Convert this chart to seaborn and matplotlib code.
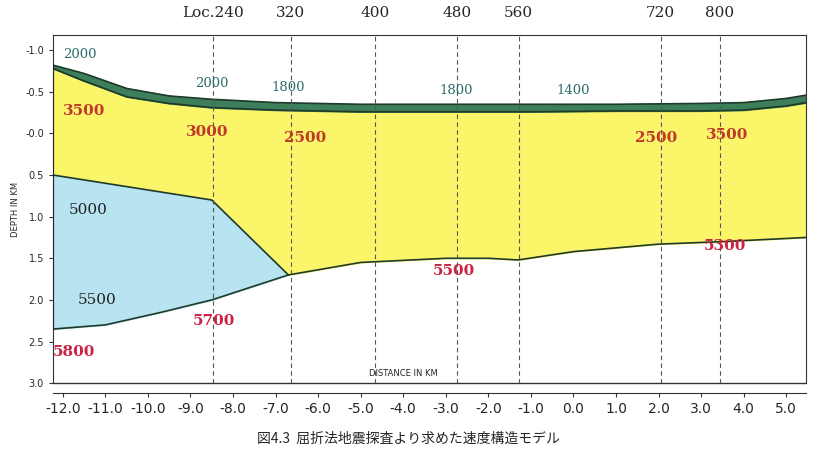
import matplotlib
matplotlib.use("Agg")
import matplotlib.pyplot as plt
import seaborn as sns
import numpy as np

sns.set_style("white")
plt.rcParams['font.family'] = ['DejaVu Sans']

surf_x = [-12.23, -11.5, -10.5, -9.5, -8.5, -7.0, -5.0, -3.0, -1.0, 1.0, 3.0, 4.0, 5.0, 5.47]
surf_top = [-0.82, -0.72, -0.54, -0.45, -0.41, -0.37, -0.35, -0.35, -0.35, -0.35, -0.36, -0.37, -0.42, -0.46]
surf_base = [-0.78, -0.63, -0.44, -0.36, -0.31, -0.28, -0.26, -0.26, -0.26, -0.27, -0.27, -0.28, -0.33, -0.37]

by_x = [-12.23, -8.5, -6.7]
by_top = [0.50, 0.80, 1.70]
blue_bot_x = [-12.23, -11.0, -9.7, -8.5, -6.7]
blue_bot = [2.35, 2.30, 2.15, 2.00, 1.70]
ybase_x = [-6.7, -5.0, -3.0, -2.0, -1.3, 0.0, 2.0, 3.5, 5.47]
ybase = [1.70, 1.55, 1.50, 1.50, 1.52, 1.42, 1.33, 1.30, 1.25]

loc_x = [-8.47, -6.64, -4.66, -2.73, -1.29, 2.05, 3.44]
loc_labels = ["Loc.240", "320", "400", "480", "560", "720", "800"]

vel_labels = [(-11.6, -0.95, "2000", "#2e6b6b"), (-8.5, -0.60, "2000", "#2e6b6b"),
              (-6.7, -0.55, "1800", "#2e6b6b"), (-2.75, -0.52, "1800", "#2e6b6b"),
              (0.0, -0.52, "1400", "#2e6b6b"),
              (-11.5, -0.27, "3500", "#c0392b"), (-8.6, -0.02, "3000", "#c0392b"),
              (-6.3, 0.05, "2500", "#c0392b"), (1.95, 0.05, "2500", "#c0392b"),
              (3.6, 0.02, "3500", "#c0392b"),
              (-11.4, 0.92, "5000", "#222222"), (-11.2, 2.0, "5500", "#222222"),
              (-8.45, 2.25, "5700", "#cc2244"), (-11.75, 2.62, "5800", "#cc2244"),
              (-2.8, 1.65, "5500", "#cc2244"), (3.55, 1.35, "5300", "#cc2244")]

fig = plt.figure(figsize=(8.16, 4.69), dpi=100)
ax = fig.add_axes([0.065, 0.183, 0.923, 0.742])

ax.fill_between(surf_x, surf_top, surf_base, color="#3d7f5a", zorder=2)
yb_x = sorted(set(surf_x + by_x + ybase_x))
low = np.where(np.array(yb_x) <= -6.7, np.interp(yb_x, by_x, by_top), np.interp(yb_x, ybase_x, ybase))
ax.fill_between(yb_x, np.interp(yb_x, surf_x, surf_base), low, color="#fbf56a", zorder=1)
bx = blue_bot_x
ax.fill_between(bx, np.interp(bx, by_x, by_top), blue_bot, color="#b8e4f2", zorder=1)

for xs, ys in [(surf_x, surf_top), (surf_x, surf_base), (by_x, by_top), (blue_bot_x, blue_bot), (ybase_x, ybase)]:
    sns.lineplot(x=xs, y=ys, ax=ax, color="#1e3a2a", lw=1.2, sort=False, estimator=None, zorder=3)
ax.plot([-12.23, -12.23], [-0.82, 2.35], color="#222", lw=1.5, zorder=3)

for x, lab in zip(loc_x, loc_labels):
    ax.axvline(x, color="#555", ls=(0, (4, 3)), lw=0.8, zorder=4)
    ax.text(x, -1.36, lab, ha="center", va="bottom", fontsize=11, family="DejaVu Serif")

for x, y, t, c in vel_labels:
    ax.text(x, y, t, color=c, fontsize=11 if c != "#2e6b6b" else 9.5,
            fontweight="bold" if c not in ("#2e6b6b", "#222222") else "normal",
            family="DejaVu Serif", ha="center", va="center", zorder=5)

ax.set_xlim(-12.23, 5.47)
ax.set_ylim(3.0, -1.18)
ax.set_yticks([-1.0, -0.5, 0.0, 0.5, 1.0, 1.5, 2.0, 2.5, 3.0])
ax.set_yticklabels(["-1.0", "-0.5", "-0.0", "0.5", "1.0", "1.5", "2.0", "2.5", "3.0"], fontsize=7)
ax.set_xticks(np.arange(-12, 6, 1.0))
ax.set_xticklabels([f"{v:.1f}" for v in np.arange(-12, 6, 1.0)], fontsize=7)
ax.spines["bottom"].set_position(("outward", 7))
for s in ax.spines.values():
    s.set_color("#333")
ax.tick_params(axis="both", length=3, color="#333", direction="out", bottom=True, left=True)
ax.set_ylabel("DEPTH IN KM", fontsize=6)
ax.text(-4.0, 2.88, "DISTANCE IN KM", fontsize=6, ha="center", va="center")
ax.plot([-12.23, 5.47], [3.0, 3.0], color="#333", lw=1, clip_on=False)
fig.text(0.5, 0.055, "図4.3  屈折法地震探査より求めた速度構造モデル", ha="center", fontsize=10,
         family=["Noto Sans CJK JP", "DejaVu Sans"])
fig.savefig("out.png", dpi=100)
